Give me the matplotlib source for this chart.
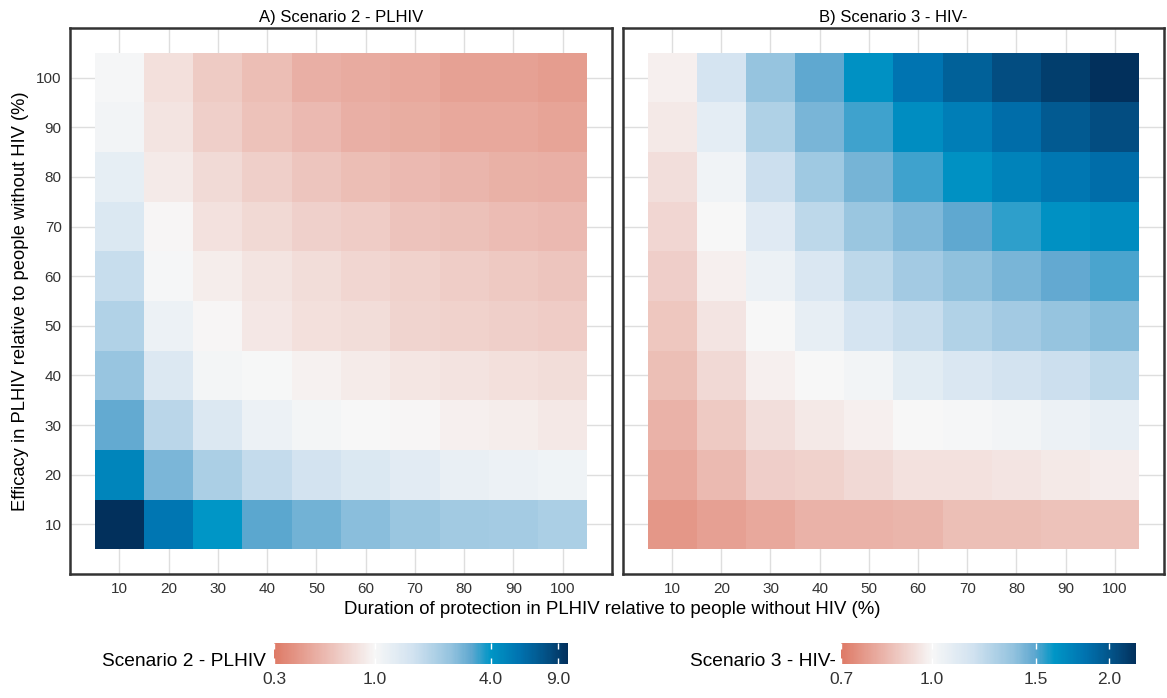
import numpy as np
import matplotlib
matplotlib.use("Agg")
import matplotlib.pyplot as plt
from matplotlib.colors import LinearSegmentedColormap, LogNorm
from matplotlib.ticker import FixedLocator, FixedFormatter, NullLocator

plt.rcParams['font.family'] = ['Liberation Sans', 'DejaVu Sans']

# ---------------- data ----------------
duration = [10, 20, 30, 40, 50, 60, 70, 80, 90, 100]   # x
efficacy = [10, 20, 30, 40, 50, 60, 70, 80, 90, 100]   # y

# Scenario 2 - PLHIV : rows = efficacy 10..100, cols = duration 10..100
scen2 = [
    [10.0, 5.5, 4.0, 3.2, 2.9, 2.6, 2.36, 2.25, 2.2, 2.1],     # eff 10
    [4.7, 2.8, 2.1, 1.75, 1.55, 1.4, 1.29, 1.2, 1.15, 1.1],    # eff 20
    [3.1, 1.87, 1.38, 1.15, 1.05, 1.0, 0.98, 0.93, 0.91, 0.87],  # eff 30
    [2.4, 1.38, 1.06, 1.01, 0.95, 0.89, 0.85, 0.82, 0.80, 0.78],  # eff 40
    [2.0, 1.15, 0.98, 0.86, 0.80, 0.78, 0.72, 0.70, 0.68, 0.66],  # eff 50
    [1.7, 1.03, 0.91, 0.83, 0.78, 0.73, 0.70, 0.67, 0.64, 0.62],  # eff 60
    [1.4, 0.98, 0.81, 0.75, 0.69, 0.66, 0.61, 0.59, 0.57, 0.55],  # eff 70
    [1.23, 0.88, 0.76, 0.68, 0.62, 0.58, 0.55, 0.53, 0.51, 0.50],  # eff 80
    [1.07, 0.83, 0.68, 0.60, 0.55, 0.50, 0.49, 0.47, 0.47, 0.45],  # eff 90
    [1.02, 0.80, 0.65, 0.58, 0.50, 0.48, 0.47, 0.44, 0.44, 0.42],  # eff 100
]

# Scenario 3 - HIV-
scen3 = [
    [0.76, 0.78, 0.80, 0.82, 0.82, 0.83, 0.85, 0.85, 0.86, 0.86],  # eff 10
    [0.80, 0.84, 0.89, 0.90, 0.92, 0.94, 0.94, 0.95, 0.96, 0.97],  # eff 20
    [0.82, 0.88, 0.93, 0.96, 0.98, 1.00, 1.01, 1.02, 1.05, 1.07],  # eff 30
    [0.85, 0.92, 0.98, 1.00, 1.02, 1.09, 1.13, 1.16, 1.19, 1.23],  # eff 40
    [0.87, 0.95, 1.00, 1.07, 1.15, 1.20, 1.27, 1.32, 1.36, 1.40],  # eff 50
    [0.89, 0.98, 1.05, 1.13, 1.23, 1.32, 1.38, 1.43, 1.48, 1.52],  # eff 60
    [0.91, 1.00, 1.10, 1.23, 1.35, 1.42, 1.49, 1.55, 1.64, 1.67],  # eff 70
    [0.93, 1.03, 1.19, 1.33, 1.44, 1.53, 1.64, 1.72, 1.79, 1.85],  # eff 80
    [0.96, 1.08, 1.28, 1.43, 1.53, 1.66, 1.75, 1.85, 1.97, 2.05],  # eff 90
    [0.98, 1.15, 1.36, 1.49, 1.64, 1.81, 1.93, 2.05, 2.14, 2.22],  # eff 100
]

panel_titles = ["A) Scenario 2 - PLHIV", "B) Scenario 3 - HIV-"]
legend_titles = ["Scenario 2 - PLHIV", "Scenario 3 - HIV-"]
legend_ticks = [[0.3, 1.0, 4.0, 9.0], [0.7, 1.0, 1.5, 2.0]]
limits = [(0.3, 10.1), (0.7, 2.22)]
xlabel = "Duration of protection in PLHIV relative to people without HIV (%)"
ylabel = "Efficacy in PLHIV relative to people without HIV (%)"

# ---------------- colours ----------------
red_stops = [(0.0, "#F7F7F7"), (0.5, "#EBB9B0"), (1.0, "#DE7A66")]
blue_stops = [(0.0, "#F7F7F7"), (0.2, "#D1E2F0"), (0.4, "#92C2DE"),
              (0.5, "#60A8D0"), (0.6, "#0096C6"), (0.75, "#0073B0"),
              (0.9, "#034E82"), (1.0, "#02305C")]


def make_cmap(vmin, vmax):
    fw = np.log(1.0 / vmin) / np.log(vmax / vmin)
    pts = []
    for s, c in sorted(red_stops, key=lambda p: -p[0]):
        pts.append((fw * (1 - s), c))
    for t, c in blue_stops[1:]:
        pts.append((fw + t * (1 - fw), c))
    return LinearSegmentedColormap.from_list("div", pts)


fig = plt.figure(figsize=(11.67, 6.98), dpi=100)
ax_pos = [[0.0600, 0.1777, 0.4644, 0.7822], [0.5338, 0.1777, 0.4636, 0.7822]]
cb_pos = [[0.2348, 0.0487, 0.2519, 0.030], [0.7207, 0.0487, 0.2528, 0.030]]
cb_title_x = [0.2280, 0.7160]

edges_x = np.array(duration, dtype=float) - 5
edges_x = np.append(edges_x, duration[-1] + 5)
edges_y = np.array(efficacy, dtype=float) - 5
edges_y = np.append(edges_y, efficacy[-1] + 5)

for i, data in enumerate([scen2, scen3]):
    ax = fig.add_axes(ax_pos[i])
    vmin, vmax = limits[i]
    cmap = make_cmap(vmin, vmax)
    norm = LogNorm(vmin=vmin, vmax=vmax)
    mesh = ax.pcolormesh(edges_x, edges_y, np.array(data), cmap=cmap, norm=norm,
                         edgecolors='none', zorder=2)
    ax.set_xlim(0, 110)
    ax.set_ylim(0, 110)
    ax.set_xticks(duration)
    ax.set_yticks(efficacy)
    ax.grid(True, color="#DEDEDE", linewidth=1.0, zorder=0)
    ax.set_axisbelow(True)
    for sp in ax.spines.values():
        sp.set_linewidth(1.8)
        sp.set_color("#333333")
    ax.tick_params(length=0, labelsize=11, labelcolor="#333333", pad=6)
    if i == 1:
        ax.tick_params(labelleft=False)
    else:
        ax.set_ylabel(ylabel, fontsize=13.2, labelpad=5)
    ax.set_title(panel_titles[i], fontsize=12, pad=4)

    cax = fig.add_axes(cb_pos[i])
    cb = fig.colorbar(mesh, cax=cax, orientation='horizontal')
    cb.outline.set_visible(False)
    cax.xaxis.set_minor_locator(NullLocator())
    cax.xaxis.set_major_locator(FixedLocator(legend_ticks[i]))
    cax.xaxis.set_major_formatter(FixedFormatter(["%.1f" % v for v in legend_ticks[i]]))
    cax.tick_params(axis='x', direction='in', length=4, width=1, color='white',
                    top=True, labelsize=12.5, labelcolor="#333333", pad=6)
    fig.text(cb_title_x[i], 1 - 662 / 698, legend_titles[i],
             ha='right', va='center', fontsize=13.8)

fig.text(0.5244, 1 - 610 / 698, xlabel, ha='center', va='center', fontsize=13.4)

fig.savefig("out.png", dpi=100)
